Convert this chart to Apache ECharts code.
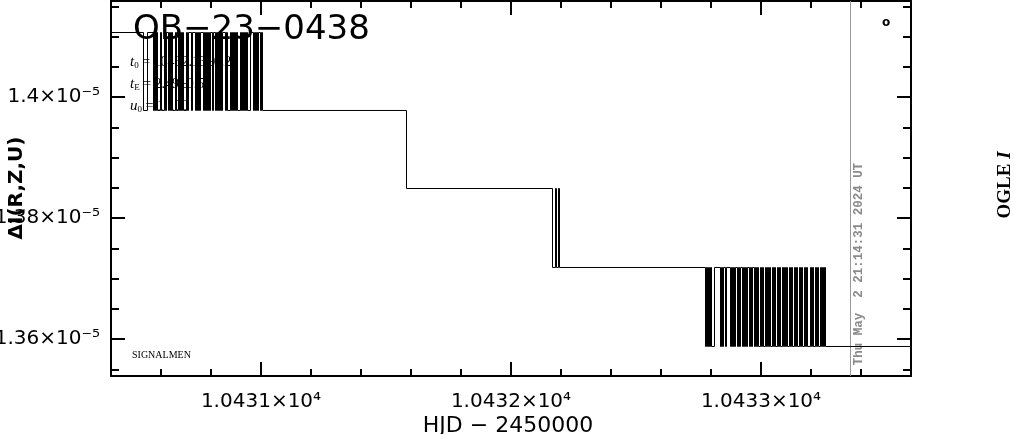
<!DOCTYPE html>
<html>
<head>
<meta charset="utf-8">
<script src="https://cdn.jsdelivr.net/npm/echarts@6/dist/echarts.min.js"></script>
<style>html,body{margin:0;padding:0;background:#fff}#c{width:1014px;height:434px}</style>
</head>
<body>
<div id="c"></div>
<script>
// ---- axis ranges and ticks ----
const xRange = [10430.4, 10433.6];
const yRange = [1.3539e-5, 1.4159e-5];
const xMajorTicks = [10431, 10432, 10433];
const xMajorLabels = ['1.0431×10⁴', '1.0432×10⁴', '1.0433×10⁴'];
const xMinorTicks = [10430.6, 10430.8, 10431.2, 10431.4, 10431.6, 10431.8, 10432.2, 10432.4, 10432.6, 10432.8, 10433.2, 10433.4];
const yMajorTicks = [1.36e-5, 1.38e-5, 1.40e-5];
const yMajorLabels = ['1.36×10⁻⁵', '1.38×10⁻⁵', '1.4×10⁻⁵'];
const yMinorTicks = [1.355e-5, 1.365e-5, 1.37e-5, 1.375e-5, 1.385e-5, 1.39e-5, 1.395e-5, 1.405e-5, 1.41e-5, 1.415e-5];

// ---- quantised model levels (ΔI) ----
const levels = [1.41069e-5, 1.39780e-5, 1.38490e-5, 1.37184e-5, 1.35878e-5];

// ---- HJD-2450000 of level switches ----
const burstA = [10430.530, 10430.546,
  10430.570, 10430.574, 10430.578, 10430.582, 10430.586,
  10430.598, 10430.602,
  10430.614, 10430.618, 10430.622,
  10430.630, 10430.634, 10430.638, 10430.642, 10430.646,
  10430.658, 10430.662,
  10430.670, 10430.674, 10430.678, 10430.682, 10430.686, 10430.690,
  10430.702, 10430.706, 10430.710,
  10430.722, 10430.726,
  10430.738, 10430.742, 10430.746, 10430.750, 10430.754, 10430.758,
  10430.770, 10430.774, 10430.778, 10430.782, 10430.786, 10430.790, 10430.794, 10430.798,
  10430.806, 10430.810,
  10430.818, 10430.822, 10430.826, 10430.830, 10430.834, 10430.838, 10430.842, 10430.846,
  10430.858, 10430.862, 10430.866,
  10430.878, 10430.882, 10430.886, 10430.890, 10430.894, 10430.898, 10430.902, 10430.906,
  10430.918, 10430.922, 10430.926, 10430.930, 10430.934, 10430.938, 10430.942, 10430.946,
  10430.958,
  10430.970, 10430.974, 10430.978, 10430.982, 10430.986, 10430.990,
  10430.998, 10431.002, 10431.006];
const stepB = [10431.582];
const burstC = [10432.166, 10432.178, 10432.182, 10432.190, 10432.194];
const burstD = [10432.778, 10432.782, 10432.786, 10432.790, 10432.794, 10432.798, 10432.802,
  10432.814,
  10432.838, 10432.842, 10432.846, 10432.850,
  10432.858, 10432.862,
  10432.878, 10432.882, 10432.886, 10432.890, 10432.894, 10432.898,
  10432.906, 10432.910, 10432.914, 10432.918,
  10432.926, 10432.930, 10432.934, 10432.938, 10432.942, 10432.946,
  10432.954, 10432.958, 10432.962, 10432.966,
  10432.974, 10432.978, 10432.982, 10432.986, 10432.990,
  10432.998, 10433.002, 10433.006, 10433.010,
  10433.018, 10433.022, 10433.026, 10433.030, 10433.034, 10433.038,
  10433.046, 10433.050, 10433.054, 10433.058,
  10433.066, 10433.070, 10433.074, 10433.078,
  10433.086, 10433.090, 10433.094, 10433.098, 10433.102, 10433.106,
  10433.114, 10433.118, 10433.122, 10433.126,
  10433.134, 10433.138, 10433.142, 10433.146,
  10433.154, 10433.158, 10433.162, 10433.166,
  10433.174, 10433.178, 10433.182, 10433.186,
  10433.198, 10433.202, 10433.206, 10433.210,
  10433.218, 10433.222, 10433.226, 10433.230,
  10433.238, 10433.242, 10433.246, 10433.250, 10433.254, 10433.258];
const dateLine = 10433.358;

// build step data: each switch toggles between the two neighbouring levels
const pts = [[xRange[0], levels[0]]];
function addBurst(times, hi, lo) {
  let cur = hi;
  times.forEach(t => { cur = (cur === hi) ? lo : hi; pts.push([t, cur]); });
}
addBurst(burstA, levels[0], levels[1]);
addBurst(stepB, levels[1], levels[2]);
addBurst(burstC, levels[2], levels[3]);
addBurst(burstD, levels[3], levels[4]);
pts.push([xRange[1], levels[4]]);
// segments: [x_i, y_i, x_next, y_next]
const segs = [];
for (let i = 0; i < pts.length - 1; i++) segs.push([pts[i][0], pts[i][1], pts[i + 1][0], pts[i + 1][1]]);

const chart = echarts.init(document.getElementById('c'), null, {renderer: 'canvas'});
const black = '#000';
const tickFont = 'DejaVu Sans';
function lab(vals, labels) {
  return v => { const i = vals.findIndex(t => Math.abs(t - v) < Math.abs(t) * 1e-6); return i >= 0 ? labels[i] : ''; };
}
function xAx(pos, major, showLine) {
  return {
    type: 'value', position: pos, min: xRange[0], max: xRange[1],
    axisLine: {show: showLine, lineStyle: {color: black, width: 2}},
    axisTick: {show: true, inside: true, length: major ? 14 : 7, customValues: major ? xMajorTicks : xMinorTicks, lineStyle: {color: black, width: 2}},
    axisLabel: (major && pos === 'bottom') ? {show: true, customValues: xMajorTicks, formatter: lab(xMajorTicks, xMajorLabels), color: black, fontSize: 20, fontFamily: tickFont, margin: 16} : {show: false},
    splitLine: {show: false}
  };
}
function yAx(pos, major, showLine) {
  return {
    type: 'value', position: pos, min: yRange[0], max: yRange[1],
    axisLine: {show: showLine, lineStyle: {color: black, width: 2}},
    axisTick: {show: true, inside: true, length: major ? 14 : 8, customValues: major ? yMajorTicks : yMinorTicks, lineStyle: {color: black, width: 2}},
    axisLabel: (major && pos === 'left') ? {show: true, customValues: yMajorTicks, formatter: lab(yMajorTicks, yMajorLabels), color: black, fontSize: 20, fontFamily: tickFont, margin: 11} : {show: false},
    splitLine: {show: false}
  };
}

const sub = {t: {font: 'italic 15px "Liberation Serif"', fill: black}, s: {font: '9px "Liberation Serif"', fill: black, verticalAlign: 'bottom', padding: [8, 0, 0, 0]}};
const option = {
  animation: false,
  backgroundColor: '#fff',
  grid: {left: 111, right: 103, top: 1, bottom: 58, containLabel: false, outerBoundsMode: 'none'},
  xAxis: [xAx('bottom', true, true), xAx('bottom', false, false), xAx('top', true, true), xAx('top', false, false)],
  yAxis: [yAx('left', true, true), yAx('left', false, false), yAx('right', true, true), yAx('right', false, false)],
  graphic: [
    {type: 'text', x: 130, y: 62, z: 0, style: {text: '{t|t}{s|0} = 10432.13±0.26', fill: black, verticalAlign: 'middle', rich: sub, font: '14px "Liberation Serif"'}},
    {type: 'text', x: 130, y: 84, z: 0, style: {text: '{t|t}{s|E} = 2.49±0.55', fill: black, verticalAlign: 'middle', rich: sub, font: '14px "Liberation Serif"'}},
    {type: 'text', x: 130, y: 106, z: 0, style: {text: '{t|u}{s|0} = 1.100', fill: black, verticalAlign: 'middle', rich: sub, font: '14px "Liberation Serif"'}},
    {type: 'text', x: 133, y: 30, z: 10, style: {text: 'OB−23−0438', fill: black, font: '34px "DejaVu Sans"', verticalAlign: 'middle', align: 'left'}},
    {type: 'text', x: 132, y: 355, style: {text: 'SIGNALMEN', fill: black, font: '10px "Liberation Serif"', verticalAlign: 'middle'}},
    {type: 'text', x: 886, y: 23, style: {text: 'o', fill: black, font: 'bold 12px "DejaVu Sans"', align: 'center', verticalAlign: 'middle'}},
    {type: 'text', x: 17, y: 188, rotation: Math.PI / 2, style: {text: 'ΔI(R,Z,U)', fill: black, font: 'bold 20px "DejaVu Sans"', align: 'center', verticalAlign: 'middle'}},
    {type: 'text', x: 508, y: 426, style: {text: 'HJD − 2450000', fill: black, font: '22px "DejaVu Sans"', align: 'center', verticalAlign: 'middle'}},
    {type: 'text', x: 1005, y: 185, rotation: Math.PI / 2, style: {text: 'OGLE {i|I}', fill: black, font: 'bold 19px "Liberation Serif"', align: 'center', verticalAlign: 'middle',
      rich: {i: {font: 'bold italic 19px "Liberation Serif"', fill: black}}}},
    {type: 'text', x: 859, y: 264, rotation: Math.PI / 2, style: {text: 'Thu May  2 21:14:31 2024 UT', fill: '#8a8a8a', font: 'bold 12.5px "Liberation Mono"', align: 'center', verticalAlign: 'middle'}}
  ],
  series: [
    {
      type: 'line', xAxisIndex: 0, yAxisIndex: 0, data: [[dateLine, yRange[0]], [dateLine, yRange[1]]],
      showSymbol: false, symbol: 'none', lineStyle: {color: '#999', width: 1}, z: 3, silent: true
    },
    {
      type: 'custom', xAxisIndex: 0, yAxisIndex: 0, data: segs, z: 5, silent: true, clip: true,
      encode: {x: [0, 2], y: [1, 3]},
      renderItem: function (params, api) {
        const a = api.coord([api.value(0), api.value(1)]);
        const b = api.coord([api.value(2), api.value(1)]);
        const c = api.coord([api.value(2), api.value(3)]);
        return {type: 'polyline', shape: {points: [a, b, c]}, style: {stroke: black, lineWidth: 1, fill: null}};
      }
    }
  ]
};
chart.setOption(option);
</script>
</body>
</html>
